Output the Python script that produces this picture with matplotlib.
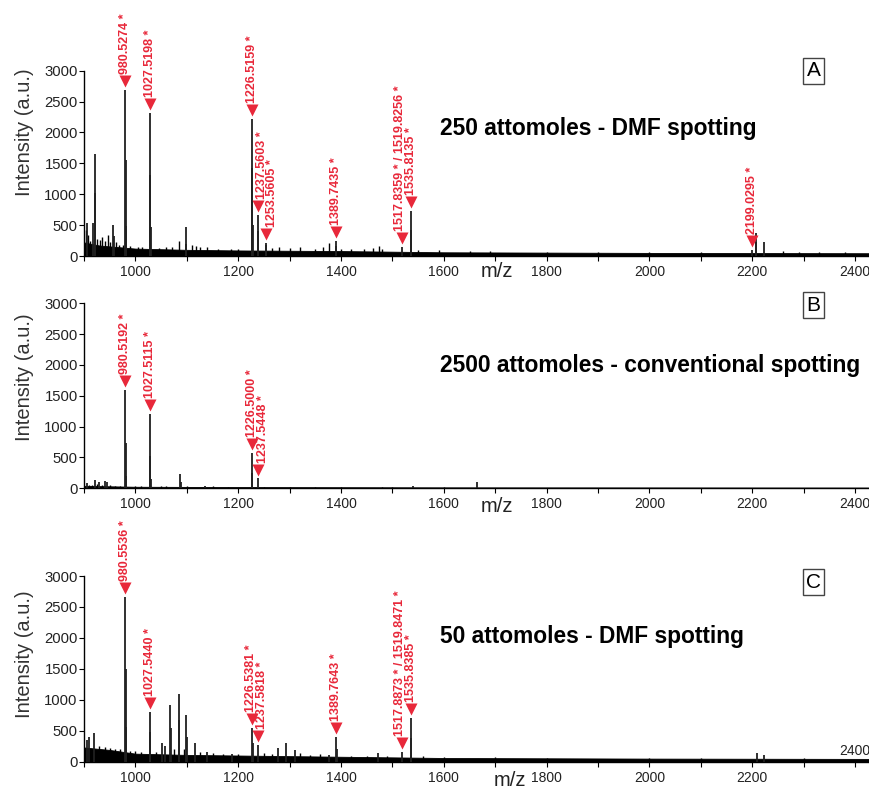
import matplotlib
matplotlib.use('Agg')
import matplotlib.pyplot as plt
from matplotlib.transforms import offset_copy

plt.rcParams['font.family'] = ['Liberation Sans', 'DejaVu Sans']

RED = '#e8283a'

# ---- panel A : 250 attomoles - DMF spotting
peaks_A_mz = [905, 917, 921, 922, 957, 958, 980.5, 981.5, 982.5, 1027.5, 1028.5, 1029.5,
              1098, 1099, 1226.5, 1227.5, 1228.5, 1237.5, 1238.5, 1253.5, 1254.5,
              1389.7, 1390.7, 1518, 1535.8, 1536.8, 2199, 2207, 2208, 2222]
peaks_A_h = [530, 530, 1654, 1020, 503, 330, 2680, 1557, 480, 2318, 1313, 475,
             470, 200, 2216, 1422, 500, 665, 400, 210, 180,
             248, 160, 150, 735, 421, 100, 380, 220, 230]
small_A_mz = [903, 908, 912, 926, 931, 935, 940, 946, 950, 962, 968, 975, 990, 1005, 1012,
              1045, 1060, 1072, 1085, 1110, 1117, 1125, 1140, 1160, 1185, 1200, 1265, 1280,
              1300, 1320, 1350, 1365, 1377, 1400, 1420, 1445, 1463, 1473, 1480, 1550, 1590,
              1650, 1690, 1800, 1900, 2000, 2100, 2260, 2290, 2330, 2380]
small_A_h = [420, 340, 250, 280, 260, 313, 250, 340, 220, 230, 180, 170, 160, 150, 140,
             130, 140, 150, 248, 170, 160, 150, 150, 120, 120, 120, 130, 151,
             130, 151, 110, 140, 216, 120, 110, 110, 130, 160, 120, 100, 90,
             80, 80, 70, 60, 60, 60, 80, 70, 70, 60]
base_A_mz = [900, 930, 1000, 1100, 1200, 1400, 1600, 2000, 2430]
base_A_h = [220, 170, 120, 100, 90, 80, 60, 50, 45]
ann_A_mz = [980.5, 1027.5, 1226.5, 1237.5, 1253.5, 1389.7, 1518, 1535.8, 2199]
ann_A_h = [2680, 2318, 2216, 665, 210, 248, 150, 735, 100]
ann_A_txt = ['980.5274 *', '1027.5198 *', '1226.5159 *', '1237.5603 *', '1253.5605 *',
             '1389.7435 *', '1517.8359 * / 1519.8256 *', '1535.8135 *', '2199.0295 *']
ann_A_dx = [0, 0, 0, 4, 6, 0, -2, 0, 0]

# ---- panel B : 2500 attomoles - conventional spotting
peaks_B_mz = [905, 921, 929, 940, 944, 980.5, 981.5, 982.5, 1027.5, 1028.5, 1029.5,
              1087, 1088, 1135, 1226.5, 1227.5, 1237.5, 1540, 1665]
peaks_B_h = [80, 135, 100, 115, 110, 1594, 730, 200, 1205, 520, 150,
             232, 100, 40, 577, 250, 172, 30, 110]
small_B_mz = [910, 915, 925, 935, 950, 960, 970, 1000, 1010, 1050, 1060, 1100, 1150,
              1180, 1250, 1300, 1350, 1400, 1480, 1500, 1600]
small_B_h = [50, 60, 70, 60, 50, 40, 40, 40, 30, 30, 30, 30, 30,
             25, 25, 20, 20, 20, 20, 20, 15]
base_B_mz = [900, 1000, 1200, 1600, 2430]
base_B_h = [40, 25, 20, 15, 12]
ann_B_mz = [980.5, 1027.5, 1226.5, 1237.5]
ann_B_h = [1594, 1205, 577, 150]
ann_B_txt = ['980.5192 *', '1027.5115 *', '1226.5000 *', '1237.5448 *']
ann_B_dx = [0, 0, 0, 5]

# ---- panel C : 50 attomoles - DMF spotting
peaks_C_mz = [905, 910, 919, 980.5, 981.5, 982.5, 1027.5, 1028.5, 1052, 1058, 1068, 1069,
              1084, 1085, 1099, 1100, 1115, 1140, 1188, 1227, 1228, 1237.5, 1278, 1293,
              1310, 1377, 1391, 1392, 1472, 1518, 1535.8, 1536.8, 2210, 2222]
peaks_C_h = [350, 404, 469, 2656, 1492, 566, 808, 485, 297, 250, 916, 550,
             1094, 673, 754, 400, 297, 150, 130, 549, 300, 270, 226, 297,
             189, 110, 404, 200, 135, 152, 701, 380, 135, 108]
small_C_mz = [930, 940, 950, 960, 970, 990, 1000, 1010, 1040, 1075, 1095, 1125, 1150,
              1170, 1200, 1250, 1265, 1320, 1340, 1360, 1420, 1450, 1490, 1560, 1600,
              1700, 1800, 2000, 2100, 2300]
small_C_h = [250, 230, 220, 200, 200, 180, 170, 160, 160, 200, 200, 160, 140,
             120, 120, 140, 130, 140, 110, 120, 100, 100, 100, 90, 80,
             70, 60, 60, 60, 60]
base_C_mz = [900, 950, 1000, 1100, 1200, 1400, 1600, 2000, 2430]
base_C_h = [230, 190, 130, 110, 100, 80, 60, 50, 45]
ann_C_mz = [980.5, 1027.5, 1227, 1237.5, 1391, 1518, 1535.8]
ann_C_h = [2656, 808, 549, 270, 404, 152, 701]
ann_C_txt = ['980.5536 *', '1027.5440 *', '1226.5381 *', '1237.5818 *', '1389.7643 *',
             '1517.8873 * / 1519.8471 *', '1535.8385 *']
ann_C_dx = [0, 0, -1, 4, 0, -2, 0]

xticks = [1000, 1200, 1400, 1600, 1800, 2000, 2200, 2400]
yticks = [0, 500, 1000, 1500, 2000, 2500, 3000]

W, H = 870, 796
fig = plt.figure(figsize=(W / 100, H / 100), dpi=100)

panels = [
    dict(rect=(256, 70.7), peaks=(peaks_A_mz, peaks_A_h), small=(small_A_mz, small_A_h),
         base=(base_A_mz, base_A_h), ann=(ann_A_mz, ann_A_h, ann_A_txt, ann_A_dx),
         title='250 attomoles - DMF spotting', title_y=128, letter='A', letter_y=71,
         ylab_y=132, mz_xy=(497, 272)),
    dict(rect=(488.3, 303.3), peaks=(peaks_B_mz, peaks_B_h), small=(small_B_mz, small_B_h),
         base=(base_B_mz, base_B_h), ann=(ann_B_mz, ann_B_h, ann_B_txt, ann_B_dx),
         title='2500 attomoles - conventional spotting', title_y=365, letter='B', letter_y=305,
         ylab_y=377, mz_xy=(497, 506)),
    dict(rect=(761.7, 576), peaks=(peaks_C_mz, peaks_C_h), small=(small_C_mz, small_C_h),
         base=(base_C_mz, base_C_h), ann=(ann_C_mz, ann_C_h, ann_C_txt, ann_C_dx),
         title='50 attomoles - DMF spotting', title_y=636, letter='C', letter_y=582,
         ylab_y=654, mz_xy=(510, 781)),
]

for i, p in enumerate(panels):
    y0, y1 = p['rect']
    ax = fig.add_axes([84 / W, 1 - y0 / H, 785 / W, (y0 - y1) / H])
    ax.set_xlim(900, 2427)
    ax.set_ylim(0, 3000)

    bmz, bh = p['base']
    ax.fill_between(bmz, 0, bh, color='black', lw=0.6, zorder=2)
    smz, sh = p['small']
    ax.vlines(smz, 0, sh, color='black', lw=1.0, zorder=2)
    pmz, ph = p['peaks']
    ax.vlines(pmz, 0, ph, color='#202020', lw=1.3, zorder=3)

    tri = offset_copy(ax.transData, fig=fig, x=0, y=9, units='dots')
    amz, ah, atxt, adx = p['ann']
    for mz, h, txt, dx in zip(amz, ah, atxt, adx):
        ax.plot(mz, h, marker='v', ms=8, color=RED, mec='none', transform=tri,
                clip_on=False, zorder=5)
        ax.annotate(txt, xy=(mz, h), xytext=(dx * 0.72, 11.5), textcoords='offset points',
                    rotation=90, ha='center', va='bottom', color=RED, fontsize=9,
                    fontweight='bold', annotation_clip=False)

    for s in ['top', 'right']:
        ax.spines[s].set_visible(False)
    for s in ['left', 'bottom']:
        ax.spines[s].set_linewidth(1.0)
    ax.set_xticks(xticks)
    if i == 2:
        ax.set_xticklabels([str(t) for t in xticks[:-1]] + [''])
        ax.annotate('2400', xy=(2400, 0), xytext=(0, 3), textcoords='offset points',
                    ha='center', va='bottom', fontsize=10, color='#222222')
    ax.set_xticks(range(900, 2427, 100), minor=True)
    ax.set_yticks(yticks)
    ax.tick_params(axis='x', which='both', direction='out', length=3.5, width=0.8,
                   labelsize=10, labelcolor='#222222', pad=3)
    ax.tick_params(axis='y', direction='out', length=3.5, width=0.8,
                   labelsize=10.7, labelcolor='#222222', pad=1)

    fig.text(440 / W, 1 - p['title_y'] / H, p['title'], fontsize=16.4, fontweight='bold',
             ha='left', va='center')
    fig.text(813.5 / W, 1 - p['letter_y'] / H, p['letter'], fontsize=15, ha='center',
             va='center', bbox=dict(boxstyle='square,pad=0.15', fc='white', ec='#444444', lw=1))
    fig.text(25 / W, 1 - p['ylab_y'] / H, 'Intensity (a.u.)', fontsize=14.5, rotation=90,
             ha='center', va='center', color='#333333')
    mx, my = p['mz_xy']
    fig.text(mx / W, 1 - my / H, 'm/z', fontsize=14.5, ha='center', va='center',
             color='#222222')

fig.savefig('out.png', dpi=100)
